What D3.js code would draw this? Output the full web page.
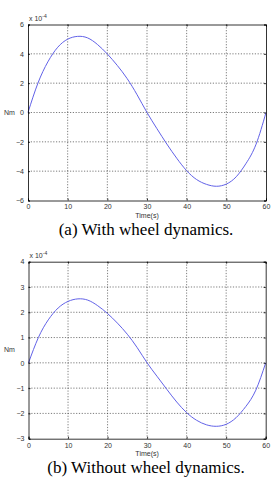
<!DOCTYPE html>
<html>
<head>
<meta charset="utf-8">
<script src="https://cdn.jsdelivr.net/npm/d3@7"></script>
<style>
  body { margin: 0; background: #fff; }
  svg { display: block; }
  .tick-label { font-family: "Liberation Sans", Arial, sans-serif; font-size: 7px; fill: #333; }
  .caption { font-family: "Liberation Serif", "Times New Roman", serif; font-size: 17px; fill: #000; }
</style>
</head>
<body>
<svg width="271" height="477"></svg>
<script>
// time axis (s)
const timeS = [0, 2.5, 5, 7.5, 10, 12.5, 15, 17.5, 20, 22.5, 25, 27.5, 30,
    32.5, 35, 37.5, 40, 42.5, 45, 47.5, 50, 52.5, 55, 57.5, 60];

// (a) with wheel dynamics, x 1e-4 Nm
const torqueWith = [0, 2.0, 3.45, 4.45, 5.0, 5.19, 5.09, 4.64, 3.99, 3.21, 2.31, 1.21, 0,
    -1.1, -2.15, -3.12, -3.97, -4.57, -4.9, -5.03, -4.88, -4.38, -3.46, -2.16, 0];

// (b) without wheel dynamics, x 1e-4 Nm
const torqueWithout = [0, 1.0, 1.7, 2.17, 2.43, 2.53, 2.48, 2.26, 1.95, 1.57, 1.13, 0.6, 0,
    -0.53, -1.05, -1.55, -1.97, -2.27, -2.45, -2.51, -2.43, -2.17, -1.72, -1.08, 0];

const xTicks = [0, 10, 20, 30, 40, 50, 60];
const yTicksA = [-6, -4, -2, 0, 2, 4, 6];
const yTicksB = [-3, -2, -1, 0, 1, 2, 3, 4];
const captions = ["(a) With wheel dynamics.", "(b) Without wheel dynamics."];

const svg = d3.select("svg");

function drawPanel(box, values, yTicks, caption) {
    const x = d3.scaleLinear().domain([0, 60]).range([box.left, box.right]);
    const y = d3.scaleLinear().domain(d3.extent(yTicks)).range([box.bottom, box.top]);
    const g = svg.append("g");

    // grid
    g.append("g").selectAll("line")
        .data(xTicks.slice(1, -1))
        .join("line")
        .attr("x1", d => x(d)).attr("x2", d => x(d))
        .attr("y1", box.top).attr("y2", box.bottom)
        .attr("stroke", "#444").attr("stroke-width", 0.7)
        .attr("stroke-dasharray", "1.2,1.6");
    g.append("g").selectAll("line")
        .data(yTicks.slice(1, -1))
        .join("line")
        .attr("y1", d => y(d)).attr("y2", d => y(d))
        .attr("x1", box.left).attr("x2", box.right)
        .attr("stroke", "#444").attr("stroke-width", 0.7)
        .attr("stroke-dasharray", "1.2,1.6");

    // curve
    const line = d3.line()
        .x((d, i) => x(timeS[i]))
        .y(d => y(d))
        .curve(d3.curveNatural);
    g.append("path")
        .datum(values)
        .attr("d", line)
        .attr("fill", "none")
        .attr("stroke", "#6262e8")
        .attr("stroke-width", 1);

    // axes box with inward ticks
    const fmt = d3.format("d");
    const bottomAxis = d3.axisBottom(x).tickValues(xTicks).tickSize(-2).tickPadding(4).tickFormat(fmt);
    const topAxis = d3.axisTop(x).tickValues(xTicks).tickSize(-2).tickFormat("");
    const leftAxis = d3.axisLeft(y).tickValues(yTicks).tickSize(-2).tickPadding(4).tickFormat(fmt);
    const rightAxis = d3.axisRight(y).tickValues(yTicks).tickSize(-2).tickFormat("");

    const styleAxis = a => {
        a.selectAll("path, line").attr("stroke", "#000").attr("stroke-width", 0.8);
        a.selectAll("text").attr("class", "tick-label").attr("font-size", null).attr("font-family", null);
    };
    g.append("g").attr("transform", `translate(0,${box.bottom})`).call(bottomAxis).call(styleAxis);
    g.append("g").attr("transform", `translate(0,${box.top})`).call(topAxis).call(styleAxis);
    g.append("g").attr("transform", `translate(${box.left},0)`).call(leftAxis).call(styleAxis);
    g.append("g").attr("transform", `translate(${box.right},0)`).call(rightAxis).call(styleAxis);

    // exponent label
    const expo = g.append("text").attr("class", "tick-label")
        .attr("x", box.left + 1).attr("y", box.top - 4);
    expo.append("tspan").text("x 10");
    expo.append("tspan").attr("dy", -3).attr("font-size", 5).text("-4");

    // axis titles
    g.append("text").attr("class", "tick-label")
        .attr("x", 4).attr("y", (box.top + box.bottom) / 2 + 2)
        .text("Nm");
    g.append("text").attr("class", "tick-label")
        .attr("x", x(30)).attr("y", box.bottom + 17)
        .attr("text-anchor", "middle")
        .text("Time(s)");

    g.append("text").attr("class", "caption")
        .attr("x", 146).attr("y", box.bottom + 34)
        .attr("text-anchor", "middle")
        .text(caption);
}

drawPanel({ left: 28, right: 266, top: 24.5, bottom: 200.5 }, torqueWith, yTicksA, captions[0]);
drawPanel({ left: 28.5, right: 265.7, top: 261.7, bottom: 438.7 }, torqueWithout, yTicksB, captions[1]);
</script>
</body>
</html>
